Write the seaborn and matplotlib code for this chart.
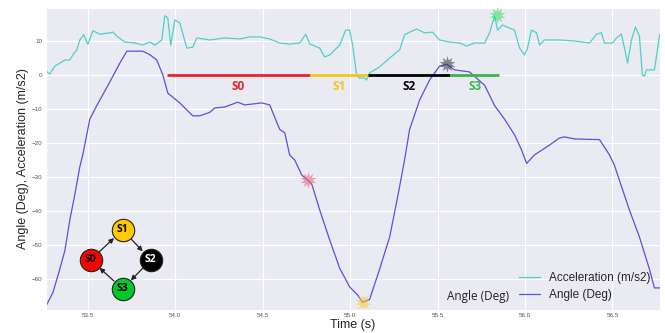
import numpy as np
import pandas as pd
import seaborn as sns
import matplotlib
matplotlib.use('Agg')
import matplotlib.pyplot as plt

# angle trace
angle_t = [53.26, 53.30, 53.34, 53.369, 53.397, 53.426, 53.454, 53.471, 53.511, 53.551,
           53.626, 53.683, 53.723, 53.814, 53.854, 53.894, 53.929, 53.957, 53.997, 54.026,
           54.066, 54.10, 54.14, 54.197, 54.226, 54.283, 54.357, 54.397, 54.494, 54.54,
           54.597, 54.626, 54.654, 54.683, 54.723, 54.757, 54.78, 54.826, 54.883, 54.94,
           54.997, 55.043, 55.071, 55.111, 55.169, 55.226, 55.271, 55.311, 55.34, 55.397,
           55.454, 55.511, 55.551, 55.597, 55.683, 55.769, 55.826, 55.883, 55.94, 55.98,
           56.009, 56.054, 56.14, 56.197, 56.226, 56.283, 56.426, 56.483, 56.511, 56.54,
           56.597, 56.654, 56.711, 56.74, 56.77]
angle_v = [-68, -64, -57, -51.5, -42.6, -35, -27, -23.5, -13, -9,
           -2, 3.5, 7, 7, 6, 4.4, 0, -5.3, -7, -8.2,
           -10.3, -12, -12, -11, -9.7, -9.4, -8, -8.8, -8.2, -8.8,
           -16, -17, -23.5, -25, -29.4, -30.9, -32, -39.7, -48.5, -56.8,
           -62.3, -64.7, -66.8, -66, -57, -47.6, -36, -25, -16, -7.4,
           -1.5, 2.6, 3.2, 1.5, 0.9, -3, -9, -13, -17.6, -22,
           -26, -23.5, -20.6, -18.5, -18.2, -18.8, -19, -23.5, -26.5, -31,
           -39.7, -47.6, -57, -62.6, -62.6]

# acceleration trace
acc_t = [53.26, 53.283, 53.311, 53.34, 53.369, 53.397, 53.414, 53.437, 53.454, 53.477,
         53.50, 53.529, 53.569, 53.626, 53.643, 53.671, 53.711, 53.769, 53.814, 53.854,
         53.883, 53.923, 53.94, 53.957, 53.974, 53.997, 54.026, 54.066, 54.10, 54.123,
         54.197, 54.283, 54.369, 54.426, 54.483, 54.54, 54.597, 54.654, 54.711, 54.746,
         54.769, 54.826, 54.854, 54.883, 54.94, 54.974, 54.997, 55.014, 55.037, 55.054,
         55.083, 55.094, 55.111, 55.169, 55.226, 55.283, 55.311, 55.34, 55.38, 55.426,
         55.471, 55.511, 55.569, 55.626, 55.666, 55.711, 55.769, 55.797, 55.826, 55.843,
         55.871, 55.911, 55.94, 55.969, 55.997, 56.014, 56.037, 56.066, 56.083, 56.111,
         56.197, 56.283, 56.369, 56.409, 56.437, 56.454, 56.50, 56.523, 56.551, 56.569,
         56.586, 56.609, 56.631, 56.654, 56.671, 56.683, 56.694, 56.74, 56.757, 56.77]
acc_v = [1.2, 0.3, 2.6, 3.5, 4.4, 4.4, 5.9, 7.4, 10.3, 11.8,
         9, 13, 12, 12.4, 12.6, 11.2, 9.7, 9.4, 8.8, 9.7,
         8.8, 10.3, 17.4, 16.8, 8.8, 16.2, 15.3, 7.9, 8.2, 10.9,
         10.3, 10.9, 10.6, 11.2, 11.2, 10.6, 9.4, 9.1, 9.4, 12,
         9.1, 7.9, 5.3, 5.9, 8.8, 13.2, 13.2, 8.8, 0, -0.9,
         -0.9, -1.5, 0.6, 2.4, 5, 7.4, 11.8, 12.6, 13.5, 12.4,
         12.6, 10.3, 9.7, 9.4, 8.5, 9.4, 9.4, 12.4, 17.4, 13.2,
         14.7, 13.8, 13.2, 7.9, 5.9, 7.9, 13.2, 12.4, 8.8, 10.3,
         10.3, 10, 9.4, 12, 12.4, 9.4, 9.4, 10.9, 12, 7.9,
         3.5, 10.3, 14.1, 11.5, 0, -0.3, 1.5, 1.5, 7.4, 12]

# state segments on the zero line
states = ['S0', 'S1', 'S2', 'S3']
state_start = [53.951, 54.769, 55.10, 55.569]
state_end = [54.769, 55.10, 55.569, 55.854]
state_colors = ['#e8262a', '#f5c518', '#000000', '#3cb54a']

# transition markers
mark_t = [54.757, 55.071, 55.551, 55.837]
mark_v = [-30.9, -66.8, 3.2, 17.6]
mark_colors = ['#f06070', '#ffc828', '#303040', '#30e060']

sns.set_style('darkgrid')
plt.rcParams['font.family'] = ['Liberation Sans', 'DejaVu Sans']

fig = plt.figure(figsize=(6.65, 3.33), dpi=100)
ax = fig.add_axes([0.069, 0.069, 0.923, 0.907])

acc = pd.DataFrame({'t': acc_t, 'v': acc_v})
ang = pd.DataFrame({'t': angle_t, 'v': angle_v})
sns.lineplot(data=acc, x='t', y='v', ax=ax, color='#4fd0c8', lw=0.9,
             label='Acceleration (m/s2)')
sns.lineplot(data=ang, x='t', y='v', ax=ax, color='#5a52d8', lw=0.9,
             label='Angle (Deg)')

for name, s, e, c in zip(states, state_start, state_end, state_colors):
    ax.hlines(0, s, e, color=c, lw=2, zorder=3)
    ax.text((s + e) / 2, -1.6, name, color=c, fontsize=8.5, fontweight='bold',
            ha='center', va='top', family=['Open Sans', 'DejaVu Sans'])

for t, v, c in zip(mark_t, mark_v, mark_colors):
    ax.plot(t, v, marker=(10, 1, 0), ms=12, color=c, alpha=0.55, mew=0, zorder=4)

# state diagram
pos = {'S0': (0.073, 0.166), 'S1': (0.125, 0.265), 'S2': (0.171, 0.166), 'S3': (0.125, 0.07)}
fc = {'S0': '#ff0000', 'S1': '#ffc800', 'S2': '#000000', 'S3': '#00c828'}
tc = {'S0': 'black', 'S1': 'black', 'S2': 'white', 'S3': 'black'}
for a, b in [('S0', 'S1'), ('S1', 'S2'), ('S2', 'S3'), ('S3', 'S0')]:
    ax.annotate('', xy=pos[b], xytext=pos[a], xycoords='axes fraction',
                arrowprops=dict(arrowstyle='-|>', color='#222222', lw=0.9,
                                shrinkA=8.5, shrinkB=8.5, mutation_scale=7), zorder=5)
for s in states:
    x, y = pos[s]
    ax.scatter([x], [y], s=260, color=fc[s], edgecolor='#222222', lw=0.8,
               transform=ax.transAxes, zorder=6)
    ax.text(x, y, s, color=tc[s], fontsize=7.5, fontweight='bold', ha='center',
            va='center', transform=ax.transAxes, zorder=7,
            family=['Open Sans', 'DejaVu Sans'])

ax.set_xlim(53.26, 56.77)
ax.set_ylim(-69.1, 19.7)
ax.set_xticks([53.5, 54.0, 54.5, 55.0, 55.5, 56.0, 56.5])
ax.set_yticks([-60, -50, -40, -30, -20, -10, 0, 10])
ax.tick_params(labelsize=4.5, labelcolor='#555555', pad=2.5, length=0)
ax.set_xlabel('Time (s)', fontsize=9, labelpad=0.5)
ax.set_ylabel('Angle (Deg), Acceleration (m/s2)', fontsize=9, labelpad=2)

ax.legend(loc='lower right', bbox_to_anchor=(1.003, -0.006), frameon=False,
          fontsize=8.5, handlelength=1.8, labelspacing=0.4)
ax.text(0.704, 0.046, 'Angle (Deg)', transform=ax.transAxes, fontsize=8.5,
        ha='center', va='center', family=['Open Sans', 'DejaVu Sans'], color='#222222')

fig.savefig('out.png', dpi=100)
